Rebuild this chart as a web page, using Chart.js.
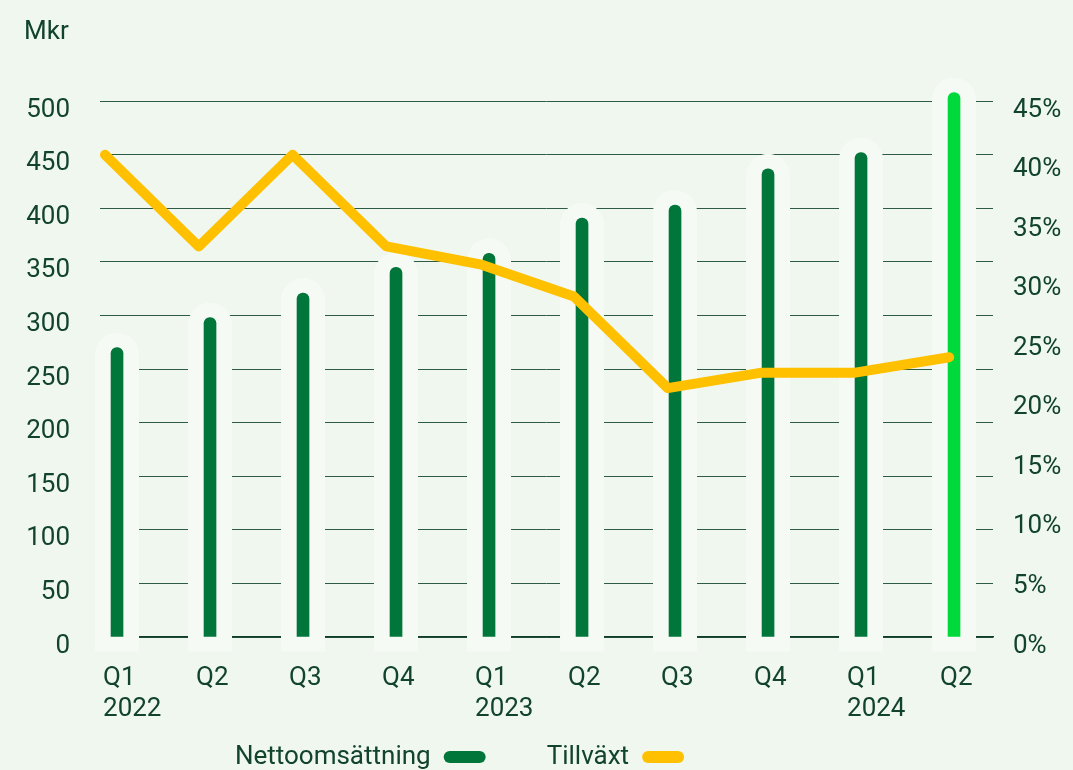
<!DOCTYPE html>
<html>
<head>
<meta charset="utf-8">
<script src="https://cdn.jsdelivr.net/npm/chart.js@4"></script>
<style>
    body { margin: 0; background: #eff7ef; }
    #wrap { width: 1073px; height: 770px; }
</style>
</head>
<body>
<div id="wrap"><canvas id="chart"></canvas></div>
<script>
const quarters = ['Q1', 'Q2', 'Q3', 'Q4', 'Q1', 'Q2', 'Q3', 'Q4', 'Q1', 'Q2'];
const years = ['2022', '', '', '', '2023', '', '', '', '2024', ''];
const netSales = [270, 298, 321, 345, 358, 391, 403, 437, 452, 508]; // Mkr
const growth = [40.5, 32.8, 40.5, 32.8, 31.3, 28.6, 20.9, 22.2, 22.2, 23.5]; // %
const salesTicks = [0, 50, 100, 150, 200, 250, 300, 350, 400, 450, 500];
const growthTicks = [0, 5, 10, 15, 20, 25, 30, 35, 40, 45];

const textColor = '#12432b';
const darkGreen = '#00763a';
const brightGreen = '#00d93c';
const yellow = '#ffc000';
const font = { family: 'Roboto, "Open Sans", sans-serif', size: 26 };

// light halo behind each bar, drawn over the grid but under the bars
const haloPlugin = {
    id: 'halo',
    beforeDatasetsDraw(chart) {
        const ctx = chart.ctx;
        const meta = chart.getDatasetMeta(0);
        ctx.save();
        ctx.fillStyle = '#f6faf5';
        meta.data.forEach(bar => {
            const { x, y, base } = bar.getProps(['x', 'y', 'base'], true);
            ctx.beginPath();
            ctx.roundRect(x - 22, y - 15, 44, base + 15 - (y - 15), [22, 22, 0, 0]);
            ctx.fill();
        });
        ctx.restore();
    }
};

// the legend sits left of centre and tucked up under the axis labels in the original
const legendShift = {
    id: 'legendShift',
    afterLayout(chart) {
        const lg = chart.legend;
        lg.left -= 89;
        lg.right -= 89;
        lg.top -= 49;
        lg.bottom -= 49;
    }
};

new Chart(document.getElementById('chart'), {
    data: {
        datasets: [
            {
                type: 'bar',
                label: 'Nettoomsättning',
                data: netSales.map((v, i) => ({ x: i, y: v })),
                backgroundColor: ctx => ctx.dataIndex === netSales.length - 1 ? brightGreen : darkGreen,
                barThickness: 12,
                grouped: false,
                borderRadius: { topLeft: 6, topRight: 6 },
                borderSkipped: 'start',
                xAxisID: 'x',
                yAxisID: 'y',
                clip: false,
                order: 1
            },
            {
                type: 'line',
                label: 'Tillväxt',
                data: growth.map((v, i) => ({ x: i, y: v })),
                borderColor: yellow,
                backgroundColor: yellow,
                borderWidth: 10,
                borderCapStyle: 'round',
                borderJoinStyle: 'round',
                pointRadius: 0,
                tension: 0,
                xAxisID: 'x2',
                yAxisID: 'y1',
                clip: false,
                order: 0
            }
        ]
    },
    options: {
        responsive: true,
        maintainAspectRatio: false,
        animation: false,
        layout: { padding: { left: 24, right: 0, top: 0, bottom: -59 } },
        scales: {
            x: {
                type: 'linear',
                offset: false,
                min: -0.183,
                max: 9.419,
                z: 1,
                afterBuildTicks: scale => {
                    scale.ticks = quarters.map((_, i) => ({ value: i }));
                },
                afterFit: scale => { scale.height = 95; },
                grid: { display: false, offset: false },
                border: { display: true, color: '#0f3d27', width: 1.5 },
                ticks: {
                    align: 'start',
                    labelOffset: -14,
                    padding: 18,
                    maxRotation: 0,
                    autoSkip: false,
                    color: textColor,
                    font: { ...font, lineHeight: 1.2 },
                    callback: (v, i) => years[i] ? [quarters[i], years[i]] : quarters[i]
                }
            },
            x2: {
                type: 'linear',
                offset: false,
                min: -0.053,
                max: 9.467,
                display: false
            },
            y: {
                position: 'left',
                min: 0,
                max: 500,
                afterBuildTicks: scale => {
                    scale.ticks = salesTicks.map(v => ({ value: v }));
                },
                afterFit: scale => { scale.width = 76; },
                grid: { color: '#2d5b45', lineWidth: 1, drawTicks: false },
                border: { display: false },
                ticks: { padding: 30, labelOffset: 9, color: textColor, font: font }
            },
            y1: {
                position: 'right',
                min: 0,
                max: 45,
                afterBuildTicks: scale => {
                    scale.ticks = growthTicks.map(v => ({ value: v }));
                },
                afterFit: scale => { scale.width = 80; },
                grid: { display: false, drawTicks: false },
                border: { display: false },
                ticks: {
                    padding: 20,
                    labelOffset: 9,
                    color: textColor,
                    font: font,
                    callback: v => v + '%'
                }
            }
        },
        plugins: {
            title: {
                display: true,
                text: 'Mkr',
                align: 'start',
                color: textColor,
                font: { ...font, weight: 'normal', lineHeight: 1.2 },
                padding: { top: 17, bottom: 53 }
            },
            legend: {
                position: 'bottom',
                rtl: true,
                labels: {
                    boxWidth: 42,
                    boxHeight: 12,
                    useBorderRadius: true,
                    borderRadius: 6,
                    padding: 61,
                    color: textColor,
                    font: font,
                    generateLabels: chart =>
                        Chart.defaults.plugins.legend.labels.generateLabels(chart)
                            .map(item => ({ ...item, lineWidth: 0 }))
                }
            },
            tooltip: { enabled: false }
        }
    },
    plugins: [haloPlugin, legendShift]
});
</script>
</body>
</html>
